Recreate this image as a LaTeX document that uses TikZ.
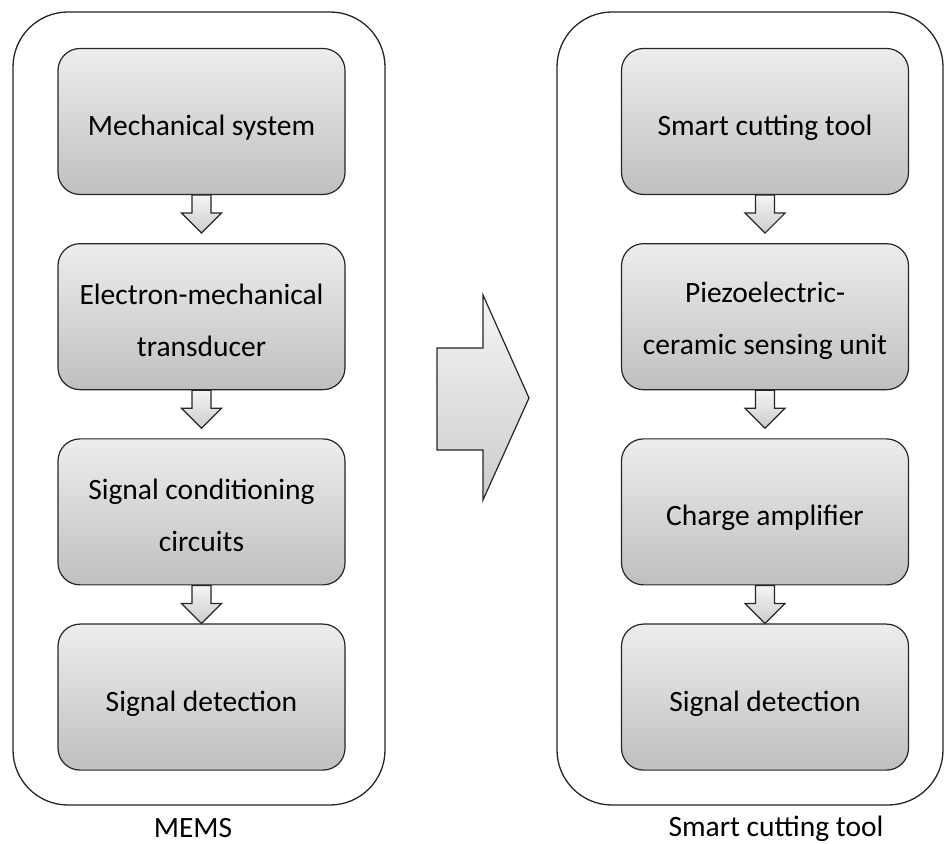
\documentclass[tikz,border=0pt]{standalone}
\usepackage{fontspec}
\setmainfont{Carlito}
\usetikzlibrary{positioning}

% extra room above the first line, so the text sits a little low in its box
\newcommand{\topgap}[1]{\rule{0pt}{#1}}

\tikzset{
  stage/.style={draw=black!85, line width=1.2pt, rounded corners=22pt,
    top color=gray!14, bottom color=gray!50,
    minimum width=287pt, minimum height=146pt, align=center,
    font=\fontsize{29.5}{52}\selectfont},
  oneline/.style={stage, text height=35pt, text depth=7pt},
  frame/.style={draw=black!85, line width=1.3pt, rounded corners=55pt, fill=white},
  flowarrow/.style={draw=black!85, line width=1.2pt, top color=gray!8, bottom color=gray!40},
  caption/.style={font=\fontsize{29.5}{34}\selectfont}
}

\begin{document}
\begin{tikzpicture}[x=1pt,y=1pt]
        \useasboundingbox (0,0) rectangle (944,843);

        % Outer frames
        \draw[frame] (13,38) rectangle (385,831);
        \draw[frame] (557,38) rectangle (943,831);

        % MEMS chain
        \node[oneline] (m1) at (201.5,721.5) {Mechanical system};
        \node[stage, below=48pt of m1] (m2) {\topgap{28pt}Electron-mechanical\\transducer};
        \node[stage, below=48pt of m2] (m3) {\topgap{28pt}Signal conditioning\\circuits};
        \node[oneline, below=38pt of m3] (m4) {Signal detection};

        % Smart cutting tool chain
        \node[oneline] (s1) at (765,721.5) {Smart cutting tool};
        \node[stage, below=48pt of s1] (s2) {\topgap{28pt}Piezoelectric-\\ceramic sensing unit};
        \node[oneline, below=48pt of s2] (s3) {Charge amplifier};
        \node[oneline, below=38pt of s3] (s4) {Signal detection};

        % Small down arrows
        \foreach \a in {m1,m2,m3,s1,s2,s3}
          \draw[flowarrow] (\a.south) ++(-9.5,0) -- ++(0,-18) -- ++(-10.5,0)
            -- ++(20,-20) -- ++(20,20) -- ++(-10.5,0) -- ++(0,18) -- cycle;

        % Big arrow between the two chains
        \draw[flowarrow] (437,495) -- (483,495) -- (483,548) -- (529,445)
          -- (483,343) -- (483,393) -- (437,393) -- cycle;

        % Captions
        \node[caption] (memslabel) at (193,15) {MEMS};
        \node[caption] (toollabel) at (776,14) {Smart cutting tool};
    \end{tikzpicture}
\end{document}
